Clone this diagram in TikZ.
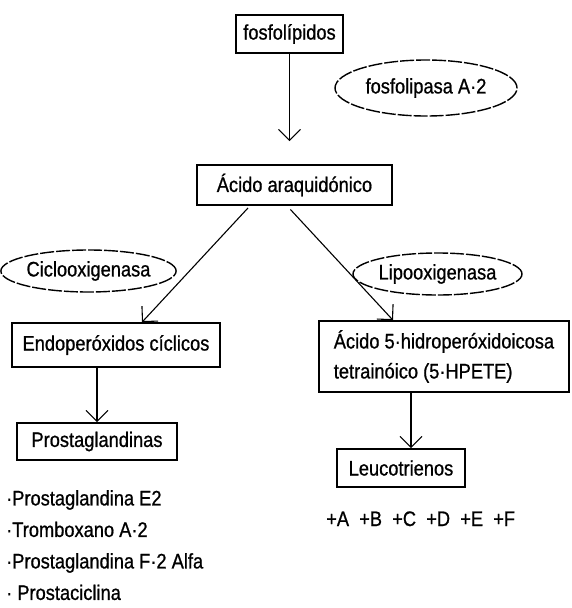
\documentclass[tikz,border=0pt]{standalone}
\usepackage{fontspec}
\setmainfont{Liberation Sans}[FakeStretch=0.87, FakeBold=0.8]
\usetikzlibrary{shapes.geometric,arrows.meta}

\begin{document}
\begin{tikzpicture}[x=1pt, y=-1pt,
        caja/.style={draw, line width=1.6pt, rectangle, inner sep=2pt},
        enzima/.style={draw, ellipse, line width=1.4pt, dash pattern=on 14pt off 2pt, inner sep=0pt},
        flecha/.style={line width=1.1pt, -{Straight Barb[length=11pt, width=22pt, line width=1.1pt]}},
        every node/.style={font=\fontsize{21}{30}\selectfont}]
    \useasboundingbox (0,0) rectangle (571,608);

    \node[caja, minimum width=107pt, minimum height=38pt] (fosf) at (289.5, 34) {fosfolípidos};
    \node[enzima, minimum width=182pt, minimum height=56pt] (pla2) at (426, 88) {fosfolipasa A·2};
    \node[caja, minimum width=195pt, minimum height=40pt] (acido) at (294.5, 185) {Ácido araquidónico};
    \node[enzima, minimum width=153pt, minimum height=42pt] (cox) at (88.5, 271) {Ciclooxigenasa};
    \node[enzima, minimum width=169pt, minimum height=42pt] (lox) at (437.5, 274) {Lipooxigenasa};
    \node[caja, minimum width=208pt, minimum height=44pt] (endo) at (116, 345) {Endoperóxidos cíclicos};
    \node[caja, minimum width=250pt, minimum height=71pt, align=left] (hpete) at (444, 356.5) {Ácido 5·hidroperóxidoicosa\\tetrainóico (5·HPETE)};
    \node[caja, minimum width=160pt, minimum height=37pt] (prosta) at (97, 441.5) {Prostaglandinas};
    \node[caja, minimum width=128pt, minimum height=38pt] (leuco) at (401, 468) {Leucotrienos};
    \node[anchor=base west, inner sep=0pt] (letras) at (326, 526) {+A\ \ +B\ \ +C\ \ +D\ \ +E\ \ +F};
    \node[anchor=north west, inner sep=0pt, align=left, font=\fontsize{21}{31.5}\selectfont] (lista) at (6, 490) {·Prostaglandina E2\\·Tromboxano A·2\\·Prostaglandina F·2 Alfa\\· Prostaciclina};

    \draw[flecha] (fosf.south) -- ([yshift=23pt]fosf.south |- acido.north);
    \draw[flecha, shorten <=3pt] ([xshift=-44.5pt]acido.south) -- ([xshift=26pt]endo.north);
    \draw[flecha, shorten <=5pt] ([xshift=-7.5pt]acido.south) -- ([xshift=-51pt]hpete.north);
    \draw[flecha] (prosta.north |- endo.south) -- (prosta.north);
    \draw[flecha] ([xshift=10pt]leuco.north |- hpete.south) -- ([xshift=10pt]leuco.north);
\end{tikzpicture}
\end{document}
